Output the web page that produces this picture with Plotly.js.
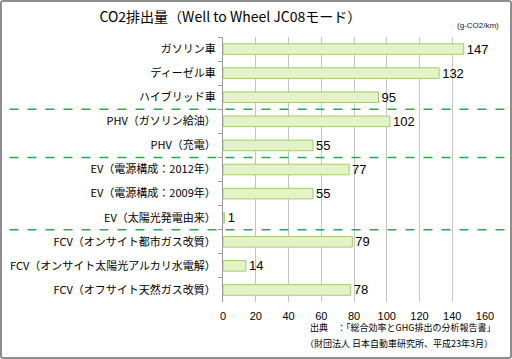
<!DOCTYPE html>
<html><head><meta charset="utf-8">
<script src="https://cdn.plot.ly/plotly-3.0.1.min.js"></script>
<style>
html,body{margin:0;padding:0;background:#fff;}
#wrap{position:absolute;left:0;top:0;width:508px;height:355px;border:2px solid #8e8e8e;border-radius:3px;overflow:hidden;}
#chart{position:absolute;left:-2px;top:-2px;width:512px;height:359px;}
</style></head>
<body><div id="wrap"><div id="chart"></div></div>
<script>
const categories = [
  "ガソリン車","ディーゼル車","ハイブリッド車",
  "PHV（ガソリン給油）","PHV（充電）",
  "EV（電源構成：2012年）","EV（電源構成：2009年）","EV（太陽光発電由来）",
  "FCV（オンサイト都市ガス改質）","FCV（オンサイト太陽光アルカリ水電解）","FCV（オフサイト天然ガス改質）"
];
const values = [147,132,95,102,55,77,55,1,79,14,78];
const xTicks = [0,20,40,60,80,100,120,140,160];
const groupBreaks = [2.5,4.5,7.5];

const jp = '"Noto Sans CJK JP", "Noto Sans", sans-serif';
const ar = 'Arial, "Liberation Sans", sans-serif';
const trace = {
  type:'bar', orientation:'h',
  x: values, y: categories,
  marker:{color:'#e3f3c5', line:{color:'#a3cc6c', width:1}},
  text: values.map(String), textposition:'outside', cliponaxis:false, constraintext:'none',
  textfont:{family:ar, size:13, color:'#000'},
  hoverinfo:'none'
};
const shapes = groupBreaks.map(b=>({
  type:'line', xref:'paper', yref:'y', x0:-0.815, x1:1.076, y0:b, y1:b,
  line:{color:'#2aa84a', width:1.5, dash:'dash'}
}));
const layout = {
  width:512, height:359,
  margin:{l:223, r:27, t:37, b:57},
  paper_bgcolor:'rgba(0,0,0,0)', plot_bgcolor:'#fff',
  showlegend:false, bargap:0.56,
  title:{text:'CO2排出量（Well to Wheel JC08モード）', x:0.45, xanchor:'center', xref:'container', y:0.952, yanchor:'middle', yref:'container',
    font:{family:jp, size:14, color:'#000'}},
  xaxis:{range:[0,160], tickvals:xTicks, ticktext:xTicks.map(String), showgrid:true, gridcolor:'#c4c4c4', gridwidth:1,
    zeroline:false, showline:false, ticks:'', ticklabelstandoff:6, tickfont:{family:ar, size:11, color:'#000'}, fixedrange:true},
  yaxis:{type:'category', autorange:'reversed', showline:true, linecolor:'#9a9a9a', linewidth:1,
    ticks:'outside', tickson:'boundaries', ticklen:4, tickcolor:'#9a9a9a', showgrid:false,
    tickfont:{family:jp, size:11, color:'#000'}, ticklabelstandoff:4},
  shapes: shapes,
  annotations:[
    {text:'(g-CO2/km)', xref:'paper', yref:'paper', x:1.06, y:1.045, xanchor:'right', yanchor:'middle', showarrow:false,
      font:{family:ar, size:8, color:'#222'}},
    {text:'出典　：「総合効率とGHG排出の分析報告書」', xref:'paper', yref:'paper', x:1.045, y:-0.096, xanchor:'right', yanchor:'middle', showarrow:false,
      font:{family:jp, size:9, color:'#000'}},
    {text:'（財団法人 日本自動車研究所、平成23年3月）', xref:'paper', yref:'paper', x:1.04, y:-0.155, xanchor:'right', yanchor:'middle', showarrow:false,
      font:{family:jp, size:9, color:'#000'}}
  ]
};
Plotly.newPlot('chart',[trace],layout,{displayModeBar:false, staticPlot:true});
</script></body></html>
